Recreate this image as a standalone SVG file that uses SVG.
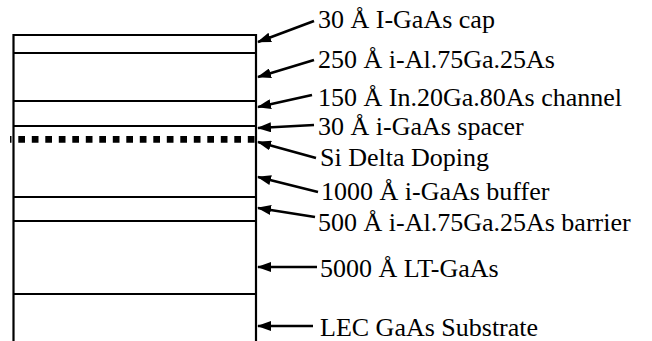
<svg xmlns="http://www.w3.org/2000/svg" width="652" height="341" viewBox="0 0 652 341">
<defs>
<style>
.ln{stroke:#000;stroke-width:2.2;fill:none}
.ar{stroke:#000;stroke-width:2.6;fill:none;marker-end:url(#ah)}
.lb{font-family:"Liberation Serif","Times New Roman",serif;font-size:26px;fill:#000}
</style>
<marker id="ah" markerUnits="userSpaceOnUse" viewBox="0 0 14 10" refX="13" refY="5" markerWidth="14" markerHeight="10" orient="auto">
<path d="M0,0 L14,5 L0,10 Z" fill="#000"/>
</marker>
</defs>
<rect width="652" height="341" fill="#fff"/>
<g id="stack">
<path class="ln" d="M13.5,341 V35 H256 V341"/>
<line class="ln" x1="13.5" y1="53" x2="256" y2="53"/>
<line class="ln" x1="13.5" y1="101" x2="256" y2="101"/>
<line class="ln" x1="13.5" y1="126" x2="256" y2="126"/>
<line x1="10" y1="139.3" x2="256" y2="139.3" stroke="#000" stroke-width="6.7" stroke-dasharray="6.7 6.8" stroke-dashoffset="5.2"/>
<line class="ln" x1="13.5" y1="197" x2="256" y2="197"/>
<line class="ln" x1="13.5" y1="221" x2="256" y2="221"/>
<line class="ln" x1="13.5" y1="294" x2="256" y2="294"/>
</g>
<g id="connectors">
<line class="ar" x1="314" y1="21" x2="258" y2="42"/>
<line class="ar" x1="314" y1="60" x2="258" y2="77"/>
<line class="ar" x1="312" y1="95" x2="258" y2="107"/>
<line class="ar" x1="314" y1="125" x2="258" y2="128"/>
<line class="ar" x1="316" y1="158" x2="258" y2="142"/>
<line class="ar" x1="318" y1="192" x2="258" y2="177"/>
<line class="ar" x1="315" y1="217" x2="258" y2="208"/>
<line class="ar" x1="317" y1="267" x2="258" y2="267"/>
<line class="ar" x1="313" y1="326" x2="258" y2="326"/>
</g>
<g id="label-cap"><text class="lb" x="318" y="28">30 Å I-GaAs cap</text></g>
<g id="label-algaas"><text class="lb" x="318" y="68">250 Å i-Al.75Ga.25As</text></g>
<g id="label-channel"><text class="lb" x="318" y="106">150 Å In.20Ga.80As channel</text></g>
<g id="label-spacer"><text class="lb" x="318" y="135">30 Å i-GaAs spacer</text></g>
<g id="label-delta"><text class="lb" x="320" y="166">Si Delta Doping</text></g>
<g id="label-buffer"><text class="lb" x="321" y="200">1000 Å i-GaAs buffer</text></g>
<g id="label-barrier"><text class="lb" x="318" y="231">500 Å i-Al.75Ga.25As barrier</text></g>
<g id="label-lt"><text class="lb" x="320" y="277">5000 Å LT-GaAs</text></g>
<g id="label-substrate"><text class="lb" x="320" y="336">LEC GaAs Substrate</text></g>
</svg>
